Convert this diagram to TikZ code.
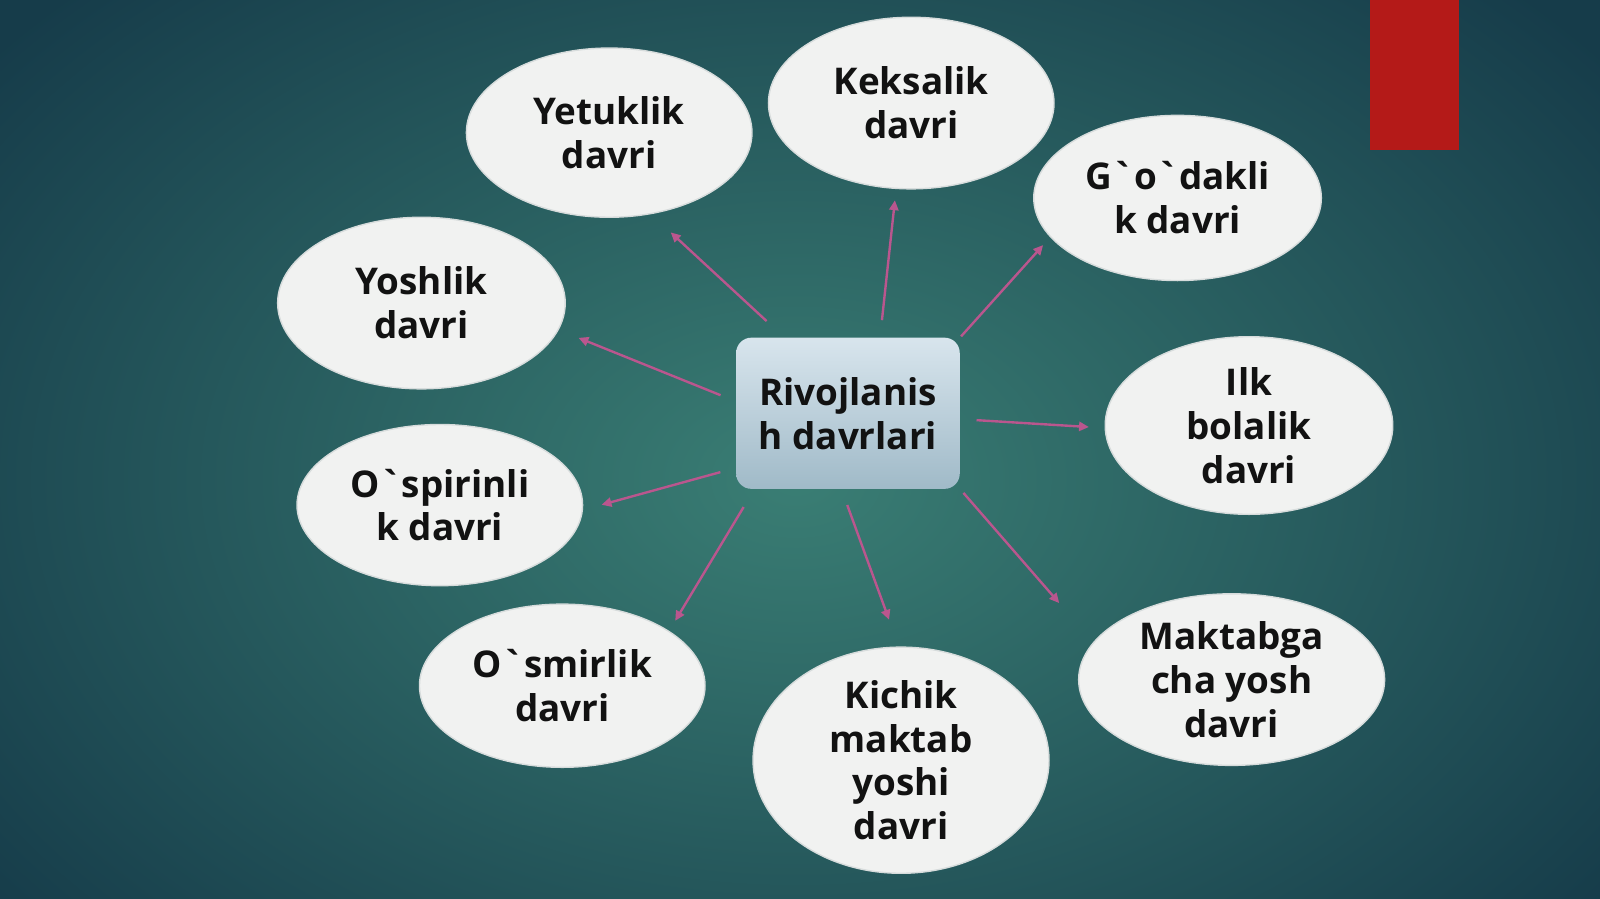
\documentclass[tikz,border=0pt]{standalone}
\usepackage{fontspec}
\setmainfont{Open Sans}[Ligatures=TeXOff]
\usepackage{xcolor}
\usetikzlibrary{shapes.geometric}
\usetikzlibrary{arrows.meta}

\definecolor{bgdark}{RGB}{22,60,74}
\definecolor{bglight}{RGB}{58,126,116}
\definecolor{ellfill}{RGB}{241,242,241}
\definecolor{ellrim}{RGB}{215,220,220}
\definecolor{arrowpink}{RGB}{186,86,142}
\definecolor{boxtop}{RGB}{216,229,237}
\definecolor{boxbot}{RGB}{160,186,200}
\definecolor{redbar}{RGB}{180,26,24}
\definecolor{txt}{RGB}{18,18,18}

\begin{document}
\begin{tikzpicture}[x=0.02551cm,y=-0.02551cm,
    period/.style={ellipse,fill=ellfill,draw=ellrim,line width=1pt,inner sep=0pt,outer sep=0pt,
      align=center,text=txt,font=\fontsize{26.2pt}{31.2pt}\selectfont\bfseries},
    hub/.style={rectangle,rounded corners=0.38cm,top color=boxtop,bottom color=boxbot,
      minimum width=5.59cm,minimum height=3.78cm,outer sep=0pt,
      align=center,text=txt,font=\fontsize{26.2pt}{31.2pt}\selectfont\bfseries},
    arr/.style={-{Triangle[length=7pt,width=6.5pt]},draw=arrowpink,line width=1.7pt}]
  % background
  \fill[bgdark] (0,0) rectangle (1568,881);
  \begin{scope}
    \clip (0,0) rectangle (1568,881);
    \shade[inner color=bglight,outer color=bgdark] (780,470) ellipse (1000 and 680);
  \end{scope}
  \fill[redbar] (1343,0) rectangle (1430,147);

  \node (c) [hub] at (831,405) {Rivojlanis\\h davrlari};

  \node (yet) [period,minimum width=7.14cm,minimum height=4.23cm] at (597,130) {Yetuklik\\davri};
  \node (kek) [period,minimum width=7.14cm,minimum height=4.29cm] at (893,101) {Keksalik\\davri};
  \node (god) [period,minimum width=7.19cm,minimum height=4.13cm] at (1154,194) {G`o`dakli\\k davri};
  \node (yosh) [period,minimum width=7.19cm,minimum height=4.29cm] at (413,297) {Yoshlik\\davri};
  \node (ilk) [period,minimum width=7.19cm,minimum height=4.44cm] at (1224,417) {Ilk\\bolalik\\davri};
  \node (ospir) [period,minimum width=7.14cm,minimum height=4.03cm] at (431,495) {O`spirinli\\k davri};
  \node (osmir) [period,minimum width=7.14cm,minimum height=4.08cm] at (551,672) {O`smirlik\\davri};
  \node (kich) [period,minimum width=7.40cm,minimum height=5.61cm] at (883,745) {Kichik\\maktab\\yoshi\\davri};
  \node (makt) [period,minimum width=7.65cm,minimum height=4.29cm] at (1207,666) {Maktabga\\cha yosh\\davri};

  \draw[arr,shorten <=0.61cm,shorten >=0.69cm] (c.130) -- (yet.-63);
  \draw[arr,shorten <=0.44cm,shorten >=0.30cm] (c.67) -- (kek.-100);
  \draw[arr,shorten <=0.05cm,shorten >=0.28cm] (c.34) -- (god.-163);
  \draw[arr,shorten <=0.42cm,shorten >=0.55cm] (c.174) -- (yosh.-11);
  \draw[arr,shorten <=0.42cm,shorten >=0.41cm] (c.-3) -- (ilk.181);
  \draw[arr,shorten <=0.41cm,shorten >=0.50cm] (c.206) -- (ospir.-2);
  \draw[arr,shorten <=0.53cm,shorten >=0.31cm] (c.219) -- (osmir.27);
  \draw[arr,shorten <=0.43cm,shorten >=0.73cm] (c.-95) -- (kich.91);
  \draw[arr,shorten <=0.14cm,shorten >=1.31cm] (c.-34) -- (makt.165);
\end{tikzpicture}
\end{document}
